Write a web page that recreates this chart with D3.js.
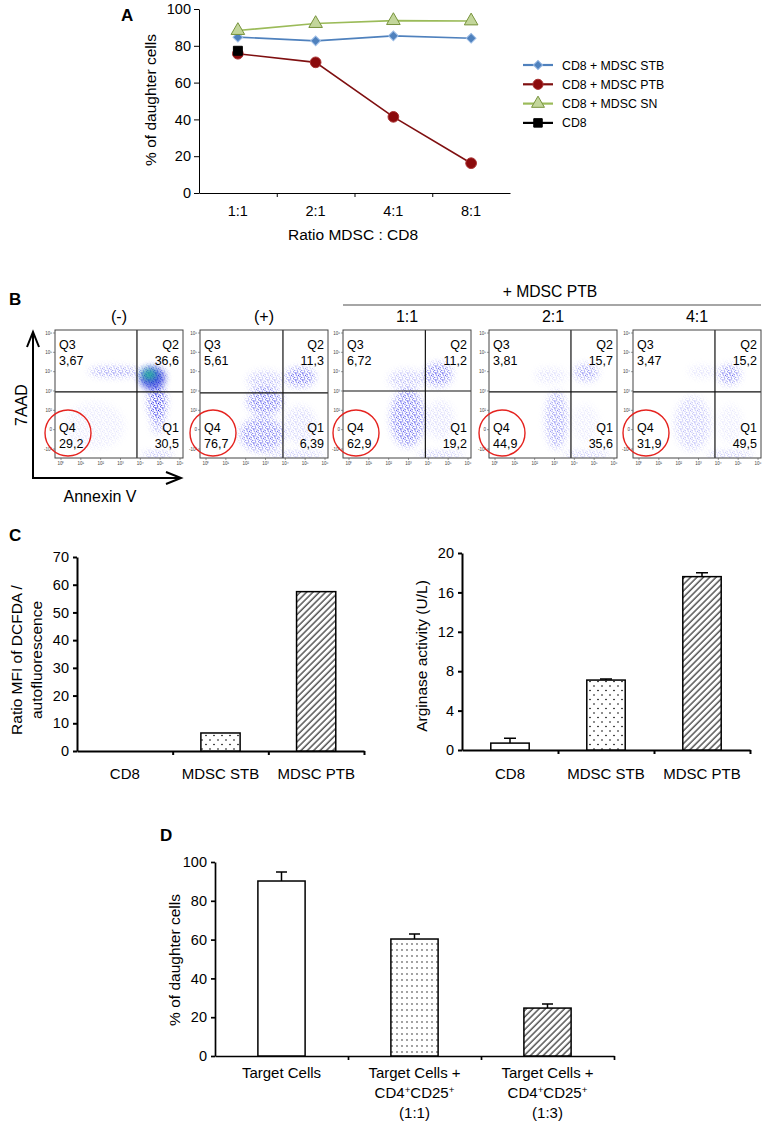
<!DOCTYPE html>
<html>
<head>
<meta charset="utf-8">
<script src="https://d3js.org/d3.v7.min.js"></script>
<style>
  body { margin: 0; background: #fff; }
  svg { font-family: "Liberation Sans", Arial, sans-serif; display: block; }
</style>
</head>
<body>
<script>
// ---------- panel A : % of daughter cells vs ratio
var ratios = ["1:1", "2:1", "4:1", "8:1"];
var stbPct = [84.7, 82.7, 85.4, 84.1];
var ptbPct = [75.7, 71.0, 41.4, 16.2];
var snPct  = [88.3, 92.1, 93.7, 93.5];
var cd8Pct = [77.3];
var legendNames = ["CD8 + MDSC STB", "CD8 + MDSC PTB", "CD8 + MDSC SN", "CD8"];
var yTicksA = [0, 20, 40, 60, 80, 100];

// ---------- panel B : Annexin V / 7AAD dot plots
var flowTitles = ["(-)", "(+)", "1:1", "2:1", "4:1"];
var q3Vals = ["3,67", "5,61", "6,72", "3,81", "3,47"];
var q2Vals = ["36,6", "11,3", "11,2", "15,7", "15,2"];
var q4Vals = ["29,2", "76,7", "62,9", "44,9", "31,9"];
var q1Vals = ["30,5", "6,39", "19,2", "35,6", "49,5"];
var flowXTicks = ["10⁰", "10¹", "10²", "10³", "10⁴", "10⁵", "10⁶"];
var flowYTicks = ["-10²", "0", "10²", "10³", "10⁴", "10⁵", "10⁶"];
var gateX = [3.83, 3.88, 3.85, 3.83, 3.83];   // in decades
var gateY = [2.95, 2.9, 3.0, 2.95, 2.95];
// event clouds: [x decade, y decade, spread x, spread y, density]
var clouds0 = [[4.6, 3.75, 0.65, 0.5, 1.0], [2.7, 4.0, 1.3, 0.25, 0.6], [4.85, 2.4, 0.45, 0.9, 1.0],
               [4.9, 1.4, 0.35, 0.6, 0.5], [1.7, 1.2, 1.5, 1.2, 0.12], [4.9, -0.3, 0.8, 0.12, 0.7]];
var clouds1 = [[4.75, 3.72, 0.75, 0.5, 0.75], [2.97, 3.55, 0.9, 0.5, 0.35], [2.97, 2.45, 0.9, 0.7, 0.7],
               [2.82, 0.75, 1.1, 0.9, 0.65], [4.75, 1.25, 0.8, 1.0, 0.22], [4.5, -0.3, 1.5, 0.12, 0.6]];
var clouds2 = [[4.5, 3.85, 0.7, 0.6, 0.7], [2.9, 3.6, 0.9, 0.5, 0.35], [2.95, 1.6, 0.85, 1.5, 0.7],
               [4.6, 1.5, 0.7, 1.0, 0.18], [4.6, -0.3, 1.2, 0.12, 0.6]];
var clouds3 = [[4.6, 3.95, 0.6, 0.45, 0.55], [2.8, 3.8, 0.8, 0.4, 0.18], [3.1, 1.5, 0.55, 1.5, 0.5],
               [4.6, 1.3, 0.6, 1.0, 0.12], [4.6, -0.3, 1.2, 0.12, 0.6]];
var clouds4 = [[4.55, 3.85, 0.55, 0.5, 0.65], [3.2, 4.0, 0.7, 0.3, 0.18], [2.7, 1.3, 0.9, 1.4, 0.3],
               [4.6, 1.3, 0.6, 1.0, 0.12], [4.6, -0.3, 1.2, 0.12, 0.6]];
var flowClouds = [clouds0, clouds1, clouds2, clouds3, clouds4];
// densest core of the (-) plot: [plot, x, y, spread x, spread y]
var hotSpots = [[0, 4.45, 3.85, 0.35, 0.25]];

// ---------- panel C
var cCats = ["CD8", "MDSC STB", "MDSC PTB"];
var dcfdaRatio = [0, 6.5, 57.5];
var arginase = [0.7, 7.1, 17.6];
var arginaseErr = [0.5, 0.12, 0.4];
var yTicksC1 = [0, 10, 20, 30, 40, 50, 60, 70];
var yTicksC2 = [0, 4, 8, 12, 16, 20];

// ---------- panel D
var dCats = [["Target Cells"], ["Target Cells +", "CD4⁺CD25⁺", "(1:1)"], ["Target Cells +", "CD4⁺CD25⁺", "(1:3)"]];
var daughterPct = [90.2, 60.3, 24.7];
var daughterErr = [4.6, 2.6, 2.1];
var yTicksD = [0, 20, 40, 60, 80, 100];

var svg = d3.select("body").append("svg").attr("width", 765).attr("height", 1126);
var defs = svg.append("defs");

// fills for bars
var dC = defs.append("pattern").attr("id", "dotsC").attr("patternUnits", "userSpaceOnUse")
  .attr("width", 8).attr("height", 9);
dC.append("rect").attr("width", 8).attr("height", 9).attr("fill", "#fff");
dC.append("circle").attr("cx", 2).attr("cy", 2).attr("r", 0.8).attr("fill", "#000");
dC.append("circle").attr("cx", 6).attr("cy", 6.5).attr("r", 0.8).attr("fill", "#000");
var dD = defs.append("pattern").attr("id", "dotsD").attr("patternUnits", "userSpaceOnUse")
  .attr("width", 5).attr("height", 6);
dD.append("rect").attr("width", 5).attr("height", 6).attr("fill", "#fff");
dD.append("circle").attr("cx", 2).attr("cy", 2).attr("r", 0.7).attr("fill", "#000");
var hatch = defs.append("pattern").attr("id", "hatch").attr("patternUnits", "userSpaceOnUse")
  .attr("width", 4.5).attr("height", 4.5).attr("patternTransform", "rotate(45)");
hatch.append("rect").attr("width", 4.5).attr("height", 4.5).attr("fill", "#fff");
hatch.append("line").attr("x1", 1).attr("x2", 1).attr("y1", 0).attr("y2", 4.5)
  .attr("stroke", "#000").attr("stroke-width", 1);

// speckle used for flow events
var sp = defs.append("pattern").attr("id", "speckle").attr("patternUnits", "userSpaceOnUse")
  .attr("width", 7).attr("height", 7);
[[0.5, 1], [3.2, 0.3], [1.8, 3.6], [4.6, 2.4], [5.4, 5.1], [2.7, 5.6], [6.1, 0.2], [0.2, 5.9],
 [3.9, 4.0], [1.1, 2.2], [5.8, 3.2], [2.3, 1.4]].forEach(function(p) {
  sp.append("rect").attr("x", p[0]).attr("y", p[1]).attr("width", 1.1).attr("height", 1.1).attr("fill", "#1d1de8");
});
var soft = defs.append("filter").attr("id", "soft").attr("filterUnits", "userSpaceOnUse")
  .attr("x", 0).attr("y", 0).attr("width", 765).attr("height", 1126);
soft.append("feGaussianBlur").attr("stdDeviation", 3.5);

function panelLetter(t, x, y) {
  svg.append("text").attr("x", x).attr("y", y).attr("font-size", 17).attr("font-weight", "bold").text(t);
}

// ================= A =================
panelLetter("A", 121, 21);
var xA = d3.scaleBand().domain(ratios).range([199, 510]);
var yA = d3.scaleLinear().domain([0, 100]).range([193, 9]);
var cx = function(i) { return xA(ratios[i]) + xA.bandwidth() / 2; };
var gA = svg.append("g");
var axA = gA.append("g").attr("transform", "translate(199,0)")
  .call(d3.axisLeft(yA).tickValues(yTicksA).tickSize(5).tickSizeOuter(0).tickPadding(3));
axA.selectAll("text").attr("font-size", 14.5).attr("font-family", "Liberation Sans, Arial");
var bA = d3.scaleLinear().domain([0, ratios.length]).range(xA.range());
gA.append("g").attr("transform", "translate(0,193)")
  .call(d3.axisBottom(bA).tickValues([1, 2, 3]).tickFormat("").tickSize(4).tickSizeOuter(0));
gA.selectAll(".domain, .tick line").attr("stroke", "#000");
ratios.forEach(function(r, i) {
  gA.append("text").attr("x", cx(i)).attr("y", 216).attr("text-anchor", "middle").attr("font-size", 14.5).text(r);
});
gA.append("text").attr("x", 353).attr("y", 240).attr("text-anchor", "middle").attr("font-size", 15.5).text("Ratio MDSC : CD8");
gA.append("text").attr("transform", "translate(156,100) rotate(-90)").attr("text-anchor", "middle")
  .attr("font-size", 15.5).text("% of daughter cells");

var seriesA = [
  { vals: stbPct, line: "#4f81bd", fill: "#4f81bd", edge: "#9dbde6", sym: d3.symbolSquare, size: 48, rot: 45 },
  { vals: ptbPct, line: "#7f0f10", fill: "#8b0a0c", edge: "#a33", sym: d3.symbolCircle, size: 90, rot: 0 },
  { vals: snPct, line: "#9bbb59", fill: "#c3d69b", edge: "#77933c", sym: d3.symbolTriangle, size: 80, rot: 0 },
  { vals: cd8Pct, line: "#000", fill: "#000", edge: "#000", sym: d3.symbolSquare, size: 80, rot: 0 }
];
var lineA = d3.line().x(function(d, i) { return cx(i); }).y(function(d) { return yA(d); });
seriesA.forEach(function(s) {
  gA.append("path").datum(s.vals).attr("d", lineA).attr("fill", "none").attr("stroke", s.line).attr("stroke-width", 1.6);
});
seriesA.forEach(function(s) {
  gA.selectAll(null).data(s.vals).enter().append("path")
    .attr("d", d3.symbol(s.sym, s.size))
    .attr("transform", function(d, i) { return "translate(" + cx(i) + "," + yA(d) + ") rotate(" + s.rot + ")"; })
    .attr("fill", s.fill).attr("stroke", s.edge).attr("stroke-width", 1);
});
// legend
seriesA.forEach(function(s, i) {
  var ly = 65 + i * 19.3;
  gA.append("line").attr("x1", 523).attr("x2", 553).attr("y1", ly).attr("y2", ly)
    .attr("stroke", s.line).attr("stroke-width", 2.2);
  gA.append("path").attr("d", d3.symbol(s.sym, s.size * 0.9)).attr("transform", "translate(538," + ly + ") rotate(" + s.rot + ")")
    .attr("fill", s.fill).attr("stroke", s.edge).attr("stroke-width", 1);
  gA.append("text").attr("x", 562).attr("y", ly + 4.5).attr("font-size", 12.3).text(legendNames[i]);
});

// ================= B =================
panelLetter("B", 9, 305);
svg.append("text").attr("x", 550).attr("y", 297).attr("text-anchor", "middle").attr("font-size", 15.7).text("+ MDSC PTB");
svg.append("line").attr("x1", 343).attr("x2", 761).attr("y1", 305).attr("y2", 305).attr("stroke", "#888").attr("stroke-width", 1.5);

var flowLeft = [55, 200, 343, 489, 633], flowTop = 330, fsz = 128;
flowTitles.forEach(function(title, i) {
  var L = flowLeft[i], T = flowTop;
  var fx = d3.scaleLinear().domain([0, 6]).range([L + 6, L + 125]);
  var fy = d3.scaleLinear().domain([0, 6]).range([T + 119, T + 3]);
  var g = svg.append("g");
  g.append("text").attr("x", L + fsz / 2).attr("y", T - 8).attr("text-anchor", "middle").attr("font-size", 16).text(title);
  g.append("rect").attr("x", L).attr("y", T).attr("width", fsz).attr("height", fsz).attr("fill", "#fff");

  var clip = defs.append("clipPath").attr("id", "clip" + i);
  clip.append("rect").attr("x", L).attr("y", T).attr("width", fsz).attr("height", fsz);
  var mask = defs.append("mask").attr("id", "mask" + i).attr("maskUnits", "userSpaceOnUse")
    .attr("x", L).attr("y", T).attr("width", fsz).attr("height", fsz);
  mask.append("g").attr("filter", "url(#soft)").selectAll("ellipse").data(flowClouds[i]).enter().append("ellipse")
    .attr("cx", function(d) { return fx(d[0]); }).attr("cy", function(d) { return fy(d[1]); })
    .attr("rx", function(d) { return fx(d[0] + d[2]) - fx(d[0]); })
    .attr("ry", function(d) { return fy(d[1]) - fy(d[1] + d[3]); })
    .attr("fill", "#fff").attr("fill-opacity", function(d) { return d[4]; });
  var ev = g.append("g").attr("clip-path", "url(#clip" + i + ")");
  ev.append("rect").attr("x", L).attr("y", T).attr("width", fsz).attr("height", fsz)
    .attr("fill", "url(#speckle)").attr("mask", "url(#mask" + i + ")");
  hotSpots.filter(function(h) { return h[0] === i; }).forEach(function(h) {
    var rx = fx(h[1] + h[3]) - fx(h[1]), ry = fy(h[2]) - fy(h[2] + h[4]);
    ev.append("ellipse").attr("cx", fx(h[1]) + 3).attr("cy", fy(h[2]) + 4).attr("rx", rx + 5).attr("ry", ry + 6)
      .attr("fill", "#1b2fd8").attr("opacity", 0.7).attr("filter", "url(#soft)");
    ev.append("ellipse").attr("cx", fx(h[1])).attr("cy", fy(h[2])).attr("rx", rx).attr("ry", ry)
      .attr("fill", "#24c98f").attr("opacity", 0.9).attr("filter", "url(#soft)");
  });

  // gates
  g.append("line").attr("x1", fx(gateX[i])).attr("x2", fx(gateX[i])).attr("y1", T).attr("y2", T + fsz)
    .attr("stroke", "#111").attr("stroke-width", 1.2);
  g.append("line").attr("x1", L).attr("x2", L + fsz).attr("y1", fy(gateY[i])).attr("y2", fy(gateY[i]))
    .attr("stroke", "#111").attr("stroke-width", 1.2);
  g.append("rect").attr("x", L).attr("y", T).attr("width", fsz).attr("height", fsz)
    .attr("fill", "none").attr("stroke", "#444").attr("stroke-width", 1);

  // tiny log axes
  flowYTicks.forEach(function(t, k) {
    g.append("line").attr("x1", L - 2).attr("x2", L).attr("y1", fy(k)).attr("y2", fy(k)).attr("stroke", "#555").attr("stroke-width", 0.6);
    g.append("text").attr("x", L - 3).attr("y", fy(k) + 1.5).attr("text-anchor", "end").attr("font-size", 4.5).attr("fill", "#444").text(t);
  });
  flowXTicks.forEach(function(t, k) {
    g.append("line").attr("x1", fx(k)).attr("x2", fx(k)).attr("y1", T + fsz).attr("y2", T + fsz + 2).attr("stroke", "#555").attr("stroke-width", 0.6);
    g.append("text").attr("x", fx(k)).attr("y", T + fsz + 7).attr("text-anchor", "middle").attr("font-size", 4.5).attr("fill", "#444").text(t);
  });

  // quadrant labels
  var fsQ = 12.5;
  g.append("text").attr("x", L + 4).attr("y", T + 19).attr("font-size", fsQ).text("Q3");
  g.append("text").attr("x", L + 4).attr("y", T + 35).attr("font-size", fsQ).text(q3Vals[i]);
  g.append("text").attr("x", L + fsz - 4).attr("y", T + 19).attr("text-anchor", "end").attr("font-size", fsQ).text("Q2");
  g.append("text").attr("x", L + fsz - 4).attr("y", T + 35).attr("text-anchor", "end").attr("font-size", fsQ).text(q2Vals[i]);
  g.append("text").attr("x", L + 4).attr("y", T + 102).attr("font-size", fsQ).text("Q4");
  g.append("text").attr("x", L + 4).attr("y", T + 118).attr("font-size", fsQ).text(q4Vals[i]);
  g.append("text").attr("x", L + fsz - 4).attr("y", T + 102).attr("text-anchor", "end").attr("font-size", fsQ).text("Q1");
  g.append("text").attr("x", L + fsz - 4).attr("y", T + 118).attr("text-anchor", "end").attr("font-size", fsQ).text(q1Vals[i]);
  g.append("circle").attr("cx", L + 13).attr("cy", T + 103).attr("r", 23)
    .attr("fill", "none").attr("stroke", "#e5231f").attr("stroke-width", 1.4);
});

// big axis arrows
var arr = svg.append("g").attr("stroke", "#000").attr("stroke-width", 2).attr("fill", "none");
arr.append("path").attr("d", "M33,478 V333 M27,347 L33,332 L39,347");
arr.append("path").attr("d", "M32,478 H181 M166,472 L181,478 L166,484");
svg.append("text").attr("transform", "translate(27,405) rotate(-90)").attr("text-anchor", "middle").attr("font-size", 16).text("7AAD");
svg.append("text").attr("x", 100).attr("y", 502).attr("text-anchor", "middle").attr("font-size", 16).text("Annexin V");

// ================= C & D bar charts =================
function addLabel(sel, str) {
  str.split("⁺").forEach(function(part, k, arr) {
    sel.append("tspan").text(part);
    if (k < arr.length - 1) sel.append("tspan").attr("baseline-shift", "super").attr("font-size", "65%").text("+");
  });
}
function barChart(c) {
  var g = svg.append("g");
  var x = d3.scaleBand().domain(d3.range(c.vals.length)).range([c.x0, c.x1]);
  var y = d3.scaleLinear().domain([0, c.ymax]).range([c.yb, c.yt]);
  var ay = g.append("g").attr("transform", "translate(" + c.x0 + ",0)")
    .call(d3.axisLeft(y).tickValues(c.ticks).tickSize(4).tickSizeOuter(0).tickPadding(4));
  ay.selectAll("text").attr("font-size", 14.5).attr("font-family", "Liberation Sans, Arial");
  var b = d3.scaleLinear().domain([0, c.vals.length]).range([c.x0, c.x1]);
  g.append("g").attr("transform", "translate(0," + c.yb + ")")
    .call(d3.axisBottom(b).tickValues(d3.range(1, c.vals.length + 1)).tickFormat("").tickSize(4).tickSizeOuter(0));
  g.selectAll(".domain, .tick line").attr("stroke", "#000").attr("stroke-width", c.axisW);
  var bw = x.bandwidth() * c.barFrac;
  var items = c.vals.map(function(v, i) { return { v: v, i: i }; }).filter(function(d) { return d.v > 0; });
  g.selectAll(null).data(items).enter().append("rect")
    .attr("x", function(d) { return x(d.i) + (x.bandwidth() - bw) / 2; })
    .attr("y", function(d) { return y(d.v); })
    .attr("width", bw).attr("height", function(d) { return c.yb - y(d.v); })
    .attr("fill", function(d) { return c.fills[d.i]; })
    .attr("stroke", "#000").attr("stroke-width", 1.5);
  if (c.errs) {
    c.vals.forEach(function(v, i) {
      var mx = x(i) + x.bandwidth() / 2;
      g.append("path").attr("d", "M" + mx + "," + y(v) + "V" + y(v + c.errs[i]) + "M" + (mx - c.cap) + "," + y(v + c.errs[i]) + "H" + (mx + c.cap))
        .attr("stroke", "#000").attr("stroke-width", 1.5).attr("fill", "none");
    });
  }
  c.labels.forEach(function(lines, i) {
    lines.forEach(function(ln, k) {
      var t = g.append("text").attr("x", x(i) + x.bandwidth() / 2).attr("y", c.yb + c.labelGap + k * 20)
        .attr("text-anchor", "middle").attr("font-size", c.labelSize);
      addLabel(t, ln);
    });
  });
  return g;
}

panelLetter("C", 9, 541);
barChart({ vals: dcfdaRatio, ymax: 70, ticks: yTicksC1, x0: 77, x1: 364, yb: 751, yt: 557,
  fills: ["#fff", "url(#dotsC)", "url(#hatch)"], barFrac: 0.41, axisW: 2,
  labels: cCats.map(function(d) { return [d]; }), labelGap: 28, labelSize: 15 });
svg.append("text").attr("transform", "translate(22,660) rotate(-90)").attr("text-anchor", "middle").attr("font-size", 15.5).text("Ratio MFI of DCFDA  /");
svg.append("text").attr("transform", "translate(42,660) rotate(-90)").attr("text-anchor", "middle").attr("font-size", 15.5).text("autofluorescence");

barChart({ vals: arginase, errs: arginaseErr, cap: 6, ymax: 20, ticks: yTicksC2, x0: 462, x1: 750, yb: 750, yt: 553,
  fills: ["#fff", "url(#dotsC)", "url(#hatch)"], barFrac: 0.4, axisW: 2,
  labels: cCats.map(function(d) { return [d]; }), labelGap: 29, labelSize: 15 });
svg.append("text").attr("transform", "translate(427,656) rotate(-90)").attr("text-anchor", "middle").attr("font-size", 15.5).text("Arginase activity (U/L)");

panelLetter("D", 160, 841);
barChart({ vals: daughterPct, errs: daughterErr, cap: 5.5, ymax: 100, ticks: yTicksD, x0: 215, x1: 614, yb: 1056, yt: 862,
  fills: ["#fff", "url(#dotsD)", "url(#hatch)"], barFrac: 0.355, axisW: 1.7,
  labels: dCats, labelGap: 22, labelSize: 15 });
svg.append("text").attr("transform", "translate(180,960) rotate(-90)").attr("text-anchor", "middle").attr("font-size", 15.5).text("% of daughter cells");
</script>
</body>
</html>
